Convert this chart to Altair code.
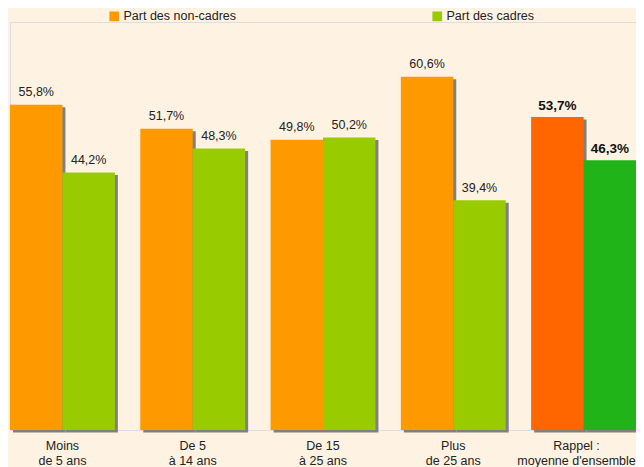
import altair as alt
import pandas as pd

categories = ["Moins|de 5 ans", "De 5|à 14 ans", "De 15|à 25 ans", "Plus|de 25 ans", "Rappel :|moyenne d'ensemble"]
non_cadres = [55.8, 51.7, 49.8, 60.6, 53.7]
cadres = [44.2, 48.3, 50.2, 39.4, 46.3]
series = ["Part des non-cadres", "Part des cadres"]
keys = ["Part des non-cadres", "Part des cadres", "non-cadres (rappel)", "cadres (rappel)"]
colors = ["#FF9900", "#99CC00", "#FF6600", "#20B418"]

rows = []
for i, cat in enumerate(categories):
    rappel = i == len(categories) - 1
    for j, (s, vals) in enumerate(zip(series, [non_cadres, cadres])):
        rows.append({
            "cat": cat,
            "serie": s,
            "value": vals[i],
            "key": keys[j + 2] if rappel else keys[j],
            "rappel": rappel,
            "label": f"{vals[i]:.1f}".replace(".", ",") + "%",
        })
df = pd.DataFrame(rows)

FONT = "Liberation Sans"
TXT = "#222222"
W = 626
PAD_IN = 0.195
BANDW = W / (5 - PAD_IN) * (1 - PAD_IN)

xenc = alt.X("cat:N", sort=categories,
             scale=alt.Scale(paddingInner=PAD_IN, paddingOuter=0),
             axis=alt.Axis(title=None, labelAngle=0, domain=False, ticks=False, grid=False,
                           labelExpr="split(datum.label, '|')", labelFontSize=12.5,
                           labelLineHeight=14.5, labelPadding=9.5, labelColor=TXT,
                           labelFont=FONT, labelOverlap=False,
                           labelOffset={"condition": {"test": "indexof(datum.value, 'Rappel') == 0",
                                                      "value": -7}, "value": 0}))
yenc = alt.Y("value:Q", scale=alt.Scale(domain=[0, 70], nice=False), axis=None)

shadow = alt.Chart(df).mark_bar(color="#808080", yOffset=2.5, y2Offset=0).encode(
    x=xenc,
    xOffset=alt.XOffset("serie:N", sort=series,
                        scale=alt.Scale(paddingInner=0, paddingOuter=0, range=[3, BANDW + 3])),
    y=yenc,
)

base = alt.Chart(df).encode(
    x=xenc,
    xOffset=alt.XOffset("serie:N", sort=series, scale=alt.Scale(paddingInner=0, paddingOuter=0)),
    y=yenc,
)

bars = base.mark_bar().encode(
    color=alt.Color("key:N", scale=alt.Scale(domain=keys, range=colors),
                    legend=alt.Legend(values=series, title=None, orient="none",
                                      legendX=98, legendY=-12, direction="horizontal",
                                      symbolType="square", symbolSize=95, symbolStrokeWidth=0,
                                      labelOffset=3, columnPadding=194, labelFontSize=12.5,
                                      labelFont=FONT, labelColor=TXT, padding=0))
)

text_norm = base.transform_filter("!datum.rappel").mark_text(
    dy=-8.5, baseline="alphabetic", fontSize=12.5, font=FONT, color=TXT
).encode(text="label:N")

text_bold = base.transform_filter("datum.rappel").mark_text(
    dy=-7, baseline="alphabetic", fontSize=13.5, fontWeight="bold", font=FONT, color="#111111"
).encode(text="label:N")

front = alt.layer(bars, text_norm, text_bold)

chart = alt.layer(shadow, front).resolve_scale(xOffset="independent").properties(
    width=W, height=408,
    autosize="none",
    padding={"left": 2, "top": 14, "right": 0, "bottom": 37},
    background="#FEF3E2",
).configure_view(stroke=None).configure(font=FONT)

chart.save("out.html", embed_options={"renderer": "svg", "actions": False})
